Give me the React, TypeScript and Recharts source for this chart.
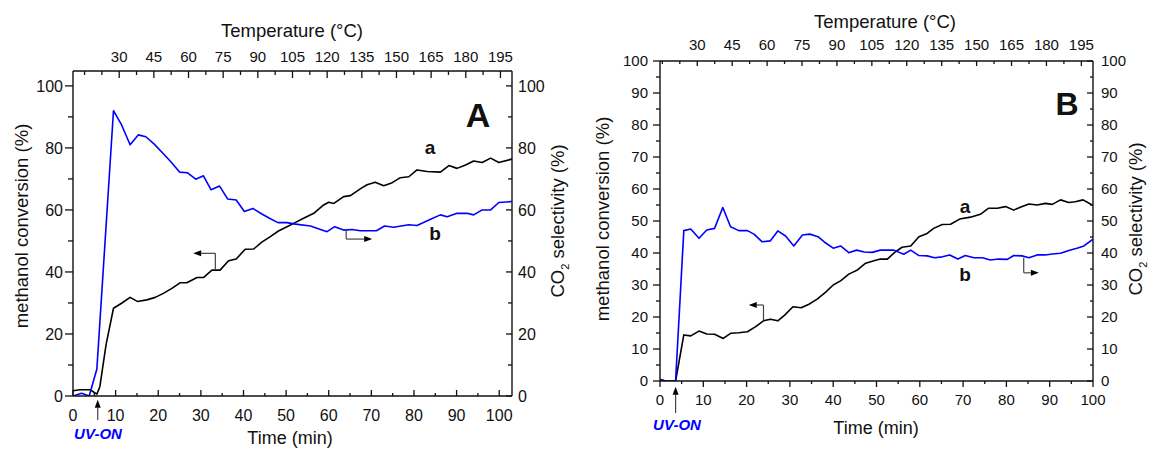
import { LineChart, Line, XAxis, YAxis, ReferenceLine } from "recharts";

// ---- data: [time (min), value (%)] ----
const convA: [number, number][] = [
  [0, 1.7], [1.6, 2.0], [4, 2.0], [5.6, 0.6], [6.3, 3], [7.75, 16.5], [9.5, 28.3], [11.4, 29.9],
  [13.4, 31.8], [15.1, 30.5], [17.3, 31], [19.3, 31.8], [21.2, 33.1], [23.2, 34.7], [25.1, 36.5],
  [26.7, 36.5], [29.1, 38.2], [30.6, 38.2], [32.6, 40.6], [34.5, 40.6], [36.5, 43.6], [38.3, 44.2],
  [40.4, 47.3], [42.4, 47.4], [44.3, 49.6], [46.3, 51.4], [48.2, 53.2], [50.2, 54.6], [52.1, 55.9],
  [54.1, 57.3], [56.5, 58.9], [58.8, 61.6], [60, 62.5], [61.2, 62.1], [63.5, 64.3], [65.1, 64.6],
  [67.4, 66.8], [69, 68.1], [70.9, 68.9], [72.9, 67.8], [74.9, 68.8], [76.8, 70.4], [78.8, 70.7],
  [80.7, 72.9], [83.1, 72.4], [86.2, 72.2], [88.2, 74.3], [90.1, 73.4], [92.1, 74.5], [94, 75.8],
  [96, 75.3], [98, 76.7], [99.9, 75.3], [102.7, 76.3], [103, 76.4],
];
const selA: [number, number][] = [
  [0, 0], [2, 0.9], [3.8, 0], [5.6, 8.7], [9.5, 92], [11.4, 87.4], [13.4, 81], [15.3, 84.2],
  [17.1, 83.6], [19, 81.3], [21.1, 78.3], [22.9, 75.6], [25, 72.2], [26.8, 72], [28.8, 69.9],
  [30.6, 71], [32.4, 66.5], [34.4, 67.7], [36.3, 63.5], [38.3, 63.2], [40.2, 59.5], [42.2, 60.5],
  [44.3, 58.7], [46.1, 57.3], [48.1, 55.9], [50.2, 55.9], [51.8, 55.5], [55.7, 54.8], [59.6, 53],
  [61.4, 54.6], [63.5, 53.5], [65.5, 53.7], [67.4, 53.3], [71.2, 53.3], [73.1, 54.8], [75.2, 54.4],
  [78.8, 55.2], [80.7, 55], [83.9, 57], [86.2, 58.4], [87.8, 57.8], [90.1, 58.9], [92.5, 58.9],
  [94, 58.4], [96, 60], [98, 60], [99.9, 62.4], [103, 62.7],
];
const convB: [number, number][] = [
  [0, 0.5], [1.3, 0], [3.6, 0], [5.5, 14.4], [7.1, 14.1], [9, 15.6], [10.8, 14.7], [12.6, 14.6],
  [14.6, 13.3], [16.3, 14.9], [18.2, 15.1], [20.2, 15.4], [22.1, 17], [23.9, 18.8], [25.5, 19.3],
  [27.2, 18.8], [28.8, 20.6], [30.7, 23.2], [32.6, 22.9], [34.4, 24], [36.3, 25.6], [38.2, 27.7],
  [40, 30], [41.7, 31.3], [43.6, 33.4], [45.6, 34.7], [47.5, 36.8], [49.4, 37.6], [50.9, 38.1],
  [52.5, 38.1], [54.4, 40.4], [55.9, 41.8], [57.9, 42.2], [59.8, 45.1], [61.7, 46.1], [63.2, 47.7],
  [65.2, 48.9], [67.1, 49], [69.2, 50.6], [71.7, 51.2], [74, 52.1], [75.9, 54], [77.9, 54],
  [79.8, 54.5], [81.7, 53.4], [83.2, 54.3], [85.2, 55.3], [87.1, 55], [89, 55.5], [90.6, 55.2],
  [92.5, 56.6], [94.4, 55.8], [95.9, 56], [97.7, 56.6], [99.4, 55.3], [100, 55],
];
const selB: [number, number][] = [
  [0, 0.5], [1.3, 0], [3.6, 0], [5.5, 47], [7.1, 47.5], [9, 44.6], [10.8, 47.2], [12.6, 47.7],
  [14.5, 54.2], [16.3, 48.2], [18.2, 47], [20.2, 47], [21.7, 45.9], [23.6, 43.5], [25.5, 43.8],
  [27.2, 46.9], [29, 45.3], [30.9, 42.2], [32.9, 45.6], [34.6, 45.9], [36.5, 45.1], [38.2, 43.2],
  [40, 41.5], [41.7, 42.2], [43.6, 40.1], [45.4, 40.9], [47.2, 40.3], [49, 40.2], [50.9, 40.9],
  [54, 40.9], [56.3, 39.6], [57.9, 40.9], [59.8, 39.2], [61.7, 39.1], [63.4, 38.5], [65.2, 38.8],
  [66.9, 39.4], [68.8, 38.1], [70.5, 39.2], [72.5, 38.5], [74.5, 38.5], [76.3, 37.8], [78.2, 38.1],
  [80.2, 38], [81.7, 39.2], [83.6, 39.1], [85.2, 38.5], [87.1, 39.4], [89, 39.4], [90.6, 39.7],
  [92.5, 39.9], [94.4, 40.8], [96.3, 41.5], [97.9, 42.2], [100, 44.3],
];

// ---- ticks ----
const timeTicks = [0, 5, 10, 15, 20, 25, 30, 35, 40, 45, 50, 55, 60, 65, 70, 75, 80, 85, 90, 95, 100];
const tempTicks = [15, 22.5, 30, 37.5, 45, 52.5, 60, 67.5, 75, 82.5, 90, 97.5, 105, 112.5, 120, 127.5,
  135, 142.5, 150, 157.5, 165, 172.5, 180, 187.5, 195];
const pctTicksA = [0, 10, 20, 30, 40, 50, 60, 70, 80, 90, 100];
const pctTicksB = [0, 5, 10, 15, 20, 25, 30, 35, 40, 45, 50, 55, 60, 65, 70, 75, 80, 85, 90, 95, 100];

const FONT = '"Liberation Sans", Arial, sans-serif';
const BLUE = "#0000ff";

const toPts = (s: [number, number][]) => s.map(([t, v]) => ({ t, v }));

type Side = "left" | "right" | "top" | "bottom";

const makeTick = (
  side: Side, outward: boolean, majorLen: number, minorLen: number,
  isMajor: (v: number) => boolean, gap: number, fontSize: number,
) => (props: any) => {
  const { x, y, payload } = props;
  const v = payload.value;
  const major = isMajor(v);
  const len = major ? majorLen : minorLen;
  const s = outward ? 1 : -1;
  let line;
  let label = null;
  const tp = { fontSize, fontFamily: FONT, fill: "#111" };
  if (side === "bottom") {
    line = <line x1={x} y1={y} x2={x} y2={y + s * len} />;
    if (major) label = <text x={x} y={y + gap} textAnchor="middle" {...tp}>{v}</text>;
  } else if (side === "top") {
    line = <line x1={x} y1={y} x2={x} y2={y - s * len} />;
    if (major) label = <text x={x} y={y - gap} textAnchor="middle" {...tp}>{v}</text>;
  } else if (side === "left") {
    line = <line x1={x} y1={y} x2={x - s * len} y2={y} />;
    if (major) label = <text x={x - gap} y={y + fontSize * 0.36} textAnchor="end" {...tp}>{v}</text>;
  } else {
    line = <line x1={x} y1={y} x2={x + s * len} y2={y} />;
    if (major) label = <text x={x + gap} y={y + fontSize * 0.36} textAnchor="start" {...tp}>{v}</text>;
  }
  return (
    <g>
      <g stroke="#111" strokeWidth={1.3}>{line}</g>
      {label}
    </g>
  );
};

const arrowShape = (head: boolean) => (p: any) => {
  const { x1, y1, x2, y2 } = p;
  const a = Math.atan2(y2 - y1, x2 - x1);
  const c = Math.cos(a);
  const sn = Math.sin(a);
  const L = 8;
  const W = 3;
  const bx = x2 - L * c;
  const by = y2 - L * sn;
  return (
    <g>
      <line x1={x1} y1={y1} x2={head ? bx : x2} y2={head ? by : y2} stroke="#444" strokeWidth={1.2} />
      {head && (
        <polygon
          points={`${x2},${y2} ${bx - sn * W},${by + c * W} ${bx + sn * W},${by - c * W}`}
          fill="#000"
        />
      )}
    </g>
  );
};

function Txt({ x, y, size, children, bold = false, italic = false, color = "#111", rotate = false }: any) {
  return (
    <div
      style={{
        position: "absolute", left: x, top: y,
        transform: `translate(-50%, -50%)${rotate ? " rotate(-90deg)" : ""}`,
        fontSize: size, fontWeight: bold ? 700 : 400, fontStyle: italic ? "italic" : "normal",
        color, whiteSpace: "nowrap", lineHeight: 1, fontFamily: FONT,
      }}
    >
      {children}
    </div>
  );
}

type Seg = { x1: number; y1: number; x2: number; y2: number; head: boolean };

function Panel(props: any) {
  const {
    left, width, margin, conv, sel, xMax, yMax, tempDomain, yTicks, yMajor,
    bottomOut, bottomGap, topGap, leftGap, rightGap, fs, topFs, segs,
    tl, ti, bl, bi, ll, li, rl, ri,
  } = props;
  const axisLine = { stroke: "#111", strokeWidth: 1.4 };
  // invisible carrier so the temperature axis has something to scale against
  const tempCarrier = tempDomain.map((T: number) => ({ T, z: 0 }));
  return (
    <div style={{ position: "absolute", left, top: 0 }}>
      <LineChart width={width} height={451} margin={margin}>
        <XAxis
          xAxisId="time" dataKey="t" type="number" domain={[0, xMax]} allowDataOverflow
          ticks={timeTicks} interval={0} height={30} tickSize={0} tickMargin={0}
          axisLine={axisLine} tickLine={false}
          tick={makeTick("bottom", bottomOut, bl, bi, (v) => v % 10 === 0, bottomGap, fs)}
        />
        <XAxis
          xAxisId="temp" dataKey="T" orientation="top" type="number" domain={tempDomain} allowDataOverflow
          ticks={tempTicks} interval={0} height={30} tickSize={0} tickMargin={0}
          axisLine={axisLine} tickLine={false}
          tick={makeTick("top", false, tl, ti, (v) => v >= 30 && v % 15 === 0, topGap, topFs)}
        />
        <YAxis
          yAxisId="conv" type="number" domain={[0, yMax]} allowDataOverflow ticks={yTicks}
          interval={0} width={40} tickSize={0} tickMargin={0} axisLine={axisLine} tickLine={false}
          tick={makeTick("left", true, ll, li, yMajor, leftGap, fs)}
        />
        <YAxis
          yAxisId="sel" orientation="right" type="number" domain={[0, yMax]} allowDataOverflow
          ticks={yTicks} interval={0} width={40} tickSize={0} tickMargin={0} axisLine={axisLine}
          tickLine={false} tick={makeTick("right", false, rl, ri, yMajor, rightGap, fs)}
        />
        <Line
          xAxisId="temp" yAxisId="conv" data={tempCarrier} dataKey="z" stroke="none"
          dot={false} activeDot={false} isAnimationActive={false}
        />
        <Line
          xAxisId="time" yAxisId="conv" data={toPts(conv)} dataKey="v" stroke="#000"
          strokeWidth={1.6} dot={false} isAnimationActive={false} strokeLinejoin="round"
        />
        <Line
          xAxisId="time" yAxisId="sel" data={toPts(sel)} dataKey="v" stroke={BLUE}
          strokeWidth={1.6} dot={false} isAnimationActive={false} strokeLinejoin="round"
        />
        {segs.map((s: Seg, i: number) => (
          <ReferenceLine
            key={i} xAxisId="time" yAxisId="conv" ifOverflow="visible"
            segment={[{ x: s.x1, y: s.y1 }, { x: s.x2, y: s.y2 }]}
            shape={arrowShape(s.head)}
          />
        ))}
      </LineChart>
    </div>
  );
}

const segsA: Seg[] = [
  { x1: 33.4, y1: 40.6, x2: 33.4, y2: 46, head: false },
  { x1: 33.4, y1: 46, x2: 28.2, y2: 46, head: true },
  { x1: 64.1, y1: 53.5, x2: 64.1, y2: 50.6, head: false },
  { x1: 64.1, y1: 50.6, x2: 70.2, y2: 50.6, head: true },
  { x1: 5.8, y1: -7.7, x2: 5.8, y2: -1.2, head: true },
];
const segsB: Seg[] = [
  { x1: 23.9, y1: 19, x2: 23.9, y2: 23.75, head: false },
  { x1: 23.9, y1: 23.75, x2: 20.5, y2: 23.75, head: true },
  { x1: 84, y1: 38.5, x2: 84, y2: 33.8, head: false },
  { x1: 84, y1: 33.8, x2: 87.5, y2: 33.8, head: true },
  { x1: 3.6, y1: -10, x2: 3.6, y2: -1.8, head: true },
];

export default function App() {
  return (
    <div style={{ position: "absolute", left: 0, top: 0, width: 1152, height: 451, background: "#fff", overflow: "hidden" }}>
      <Panel
        left={0} width={580} margin={{ top: 41, right: 28, bottom: 25, left: 33 }}
        conv={convA} sel={selA} xMax={103} yMax={104.8} tempDomain={[10, 200]}
        yTicks={pctTicksA} yMajor={(v: number) => v % 20 === 0}
        bottomOut={false} bottomGap={25} topGap={9} leftGap={10} rightGap={6} fs={16} topFs={15}
        tl={7} ti={4} bl={6} bi={3} ll={8} li={5} rl={6} ri={4} segs={segsA}
      />
      <Panel
        left={580} width={572} margin={{ top: 31, right: 19, bottom: 40, left: 40 }}
        conv={convB} sel={selB} xMax={100} yMax={100} tempDomain={[14, 200]}
        yTicks={pctTicksB} yMajor={(v: number) => v % 10 === 0}
        bottomOut={true} bottomGap={24} topGap={11} leftGap={12} rightGap={8} fs={15} topFs={15}
        tl={5} ti={3} bl={6} bi={3} ll={7} li={4} rl={6} ri={3} segs={segsB}
      />

      <Txt x={292} y={31} size={18.5}>Temperature (°C)</Txt>
      <Txt x={290} y={438} size={18}>Time (min)</Txt>
      <Txt x={22} y={226} size={18.5} rotate>methanol conversion (%)</Txt>
      <Txt x={560} y={221} size={18.5} rotate>CO<sub style={{ fontSize: "0.6em" }}>2</sub> selectivity (%)</Txt>
      <Txt x={478} y={115} size={34} bold>A</Txt>
      <Txt x={430} y={147} size={19} bold>a</Txt>
      <Txt x={435} y={233} size={19} bold>b</Txt>
      <Txt x={98} y={433} size={15} bold italic color={BLUE}>UV-ON</Txt>

      <Txt x={885} y={22} size={18.5}>Temperature (°C)</Txt>
      <Txt x={876} y={428} size={18}>Time (min)</Txt>
      <Txt x={603} y={219} size={18.5} rotate>methanol conversion (%)</Txt>
      <Txt x={1138} y={219} size={18.5} rotate>CO<sub style={{ fontSize: "0.6em" }}>2</sub> selectivity (%)</Txt>
      <Txt x={1067} y={104} size={32} bold>B</Txt>
      <Txt x={965} y={206} size={19} bold>a</Txt>
      <Txt x={965} y={274} size={19} bold>b</Txt>
      <Txt x={677} y={424} size={15} bold italic color={BLUE}>UV-ON</Txt>
    </div>
  );
}
